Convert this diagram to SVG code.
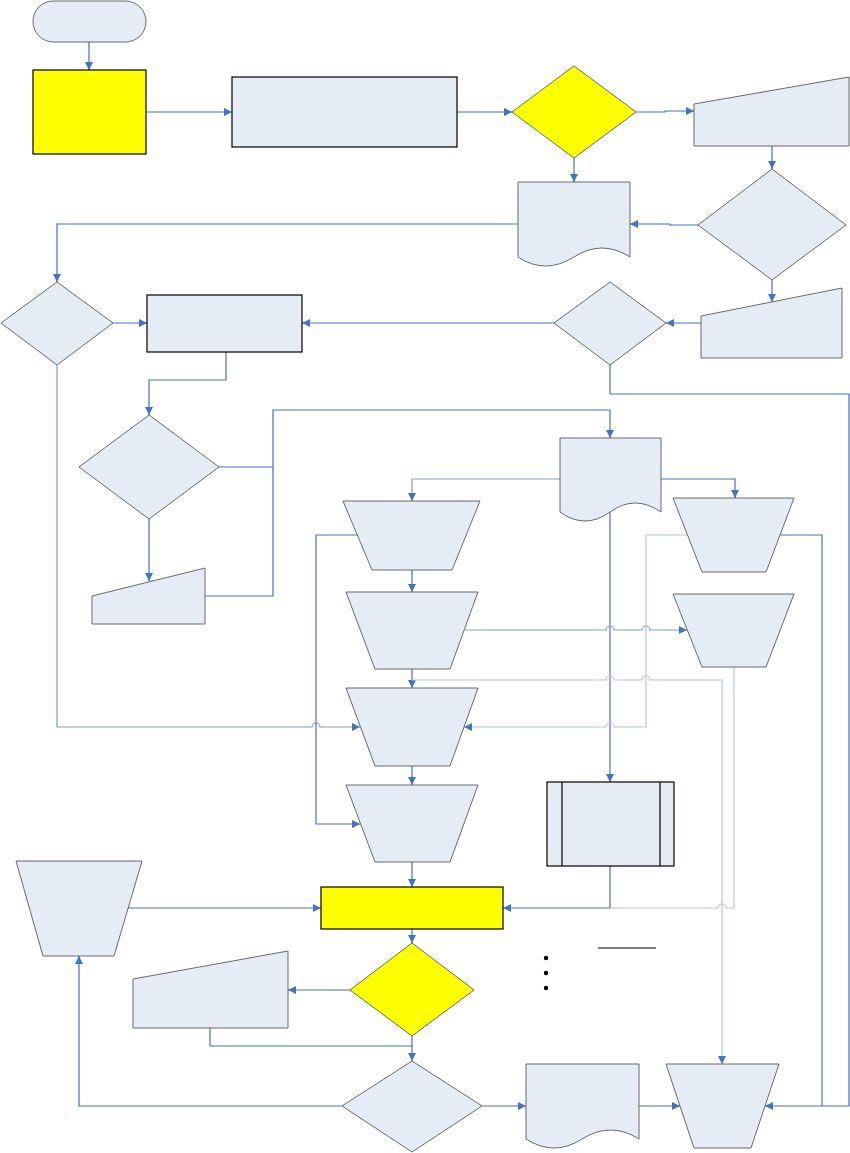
<svg xmlns="http://www.w3.org/2000/svg" width="850" height="1153" viewBox="0 0 850 1153">
<style>
.n{fill:#E6ECF6;stroke:#5a5a5a;stroke-width:0.9}
.y{fill:#FFFF00;stroke:#000;stroke-width:1.2}
.yd{fill:#FFFF00;stroke:#5a5a5a;stroke-width:0.9}
.r{fill:#E6ECF6;stroke:#000;stroke-width:1.2}
.c{fill:none;stroke:#4472C4;stroke-width:1.2}
.m{fill:none;stroke:#7E9ED8;stroke-width:1.2}
.l{fill:none;stroke:#B2C6E8;stroke-width:1.2}
.ca{marker-end:url(#a)}
</style>
<defs>
<marker id="a" viewBox="0 0 10 10" refX="10" refY="5" markerWidth="8" markerHeight="8" orient="auto" markerUnits="userSpaceOnUse">
<path d="M0,0 L10,5 L0,10 z" fill="#4472C4"/>
</marker>
</defs>
<rect width="850" height="1153" fill="#fff"/>
<g id="connectors">
<path class="c ca" d="M89,42 V70"/>
<path class="c ca" d="M147,112 H232"/>
<path class="c ca" d="M457,112 H512"/>
<path class="c ca" d="M636,112 H665 V111 H694"/>
<path class="c ca" d="M574,158 V182"/>
<path class="c ca" d="M772,146 V169"/>
<path class="c ca" d="M698,225 H670 V224 H630"/>
<path class="c ca" d="M518,224 H57 V282"/>
<path class="c ca" d="M772,280 V302"/>
<path class="c ca" d="M701,323 H666"/>
<path class="c ca" d="M554,323 H302"/>
<path class="c ca" d="M113,323 H147"/>
<path class="c ca" d="M226,352 V380 H149 V415"/>
<path class="c ca" d="M610,365 V394 H849 V1106 H765"/>
<path class="c" d="M780,535 H822 V1106"/>
<path class="m ca" d="M57,365 V727 H312 a4,4 0 0 1 8,0 H360"/>
<path class="c" d="M219,467 H273"/>
<path class="c ca" d="M205,596 H273 V410 H610 V438"/>
<path class="c ca" d="M149,519 V581"/>
<path class="m ca" d="M560,479 H412 V501"/>
<path class="c ca" d="M661,479 H735 V498"/>
<path class="c ca" d="M610,512 V782"/>
<path class="c ca" d="M412,570 V592"/>
<path class="c ca" d="M412,669 V688"/>
<path class="c ca" d="M412,766 V785"/>
<path class="c ca" d="M412,862 V887"/>
<path class="c ca" d="M412,929 V943"/>
<path class="c ca" d="M412,1036 V1061"/>
<path class="c" d="M210,1028 V1046 H412"/>
<path class="c ca" d="M350,990 H288"/>
<path class="c ca" d="M128,908 H321"/>
<path class="c ca" d="M342,1106 H79 V956"/>
<path class="c ca" d="M482,1106 H526"/>
<path class="c ca" d="M639,1106 H680"/>
<path class="c ca" d="M610,866 V908 H503"/>
<path class="c ca" d="M358,535 H316 V824 H360"/>
<path class="m ca" d="M465,630 H606 a4,4 0 0 1 8,0 H642 a4,4 0 0 1 8,0 H687"/>
<path class="l ca" d="M687,535 H646 V727 H614 a4,4 0 0 0 -8,0 H464"/>
<path class="l ca" d="M412,680 H606 a4,4 0 0 1 8,0 H642 a4,4 0 0 1 8,0 H722 V1064"/>
<path class="l" d="M734,667 V908 H726 a4,4 0 0 0 -8,0 H610"/>
</g>
<g id="n1"><rect class="n" x="33" y="1" width="113" height="41" rx="20.5"/></g>
<g id="n2"><rect class="y" x="33" y="70" width="113" height="84"/></g>
<g id="n3"><rect class="r" x="232" y="77" width="225" height="70"/></g>
<g id="n4"><polygon class="yd" points="574,66 636,112 574,158 512,112"/></g>
<g id="n5"><polygon class="n" points="694,104 849,77 849,146 694,146"/></g>
<g id="n6"><path class="n" d="M518,182 H630 V257 Q602,239 574,257 Q545,275 518,257 Z"/></g>
<g id="n7"><polygon class="n" points="772,169 846,225 772,280 698,225"/></g>
<g id="n8"><polygon class="n" points="701,316 842,288 842,358 701,358"/></g>
<g id="n9"><polygon class="n" points="610,282 666,323 610,365 554,323"/></g>
<g id="n10"><polygon class="n" points="57,282 113,323 57,365 1,323"/></g>
<g id="n11"><rect class="r" x="147" y="295" width="155" height="57"/></g>
<g id="n12"><polygon class="n" points="149,415 219,467 149,519 79,467"/></g>
<g id="n13"><polygon class="n" points="92,596 205,568 205,624 92,624"/></g>
<g id="n14"><path class="n" d="M560,438 H661 V512 Q635,494 610,512 Q585,530 560,512 Z"/></g>
<g id="n15"><polygon class="n" points="343,501 480,501 452,570 372,570"/></g>
<g id="n16"><polygon class="n" points="346,592 478,592 450,669 375,669"/></g>
<g id="n17"><polygon class="n" points="346,688 478,688 450,766 375,766"/></g>
<g id="n18"><polygon class="n" points="346,785 478,785 450,862 375,862"/></g>
<g id="n19"><rect class="y" x="321" y="887" width="182" height="42"/></g>
<g id="n20"><polygon class="n" points="673,498 794,498 766,572 702,572"/></g>
<g id="n21"><polygon class="n" points="673,594 794,594 766,667 702,667"/></g>
<g id="n22"><rect class="r" x="547" y="782" width="127" height="84"/><line x1="562" y1="782" x2="562" y2="866" stroke="#000" stroke-width="1.2"/><line x1="660" y1="782" x2="660" y2="866" stroke="#000" stroke-width="1.2"/></g>
<g id="n23"><polygon class="n" points="16,861 142,861 114,956 43,956"/></g>
<g id="n24"><polygon class="n" points="133,979 288,951 288,1028 133,1028"/></g>
<g id="n25"><polygon class="yd" points="412,943 474,990 412,1036 350,990"/></g>
<g id="n26"><polygon class="n" points="412,1061 482,1106 412,1152 342,1106"/></g>
<g id="n27"><path class="n" d="M526,1064 H639 V1139 Q611,1121 582,1139 Q554,1157 526,1139 Z"/></g>
<g id="n28"><polygon class="n" points="666,1064 779,1064 751,1148 694,1148"/></g>
<g id="legend">
<line x1="598" y1="948" x2="656" y2="948" stroke="#000" stroke-width="1"/>
<circle cx="546" cy="958" r="2.2" fill="#000"/>
<circle cx="546" cy="973" r="2.2" fill="#000"/>
<circle cx="546" cy="988" r="2.2" fill="#000"/>
</g>
</svg>
